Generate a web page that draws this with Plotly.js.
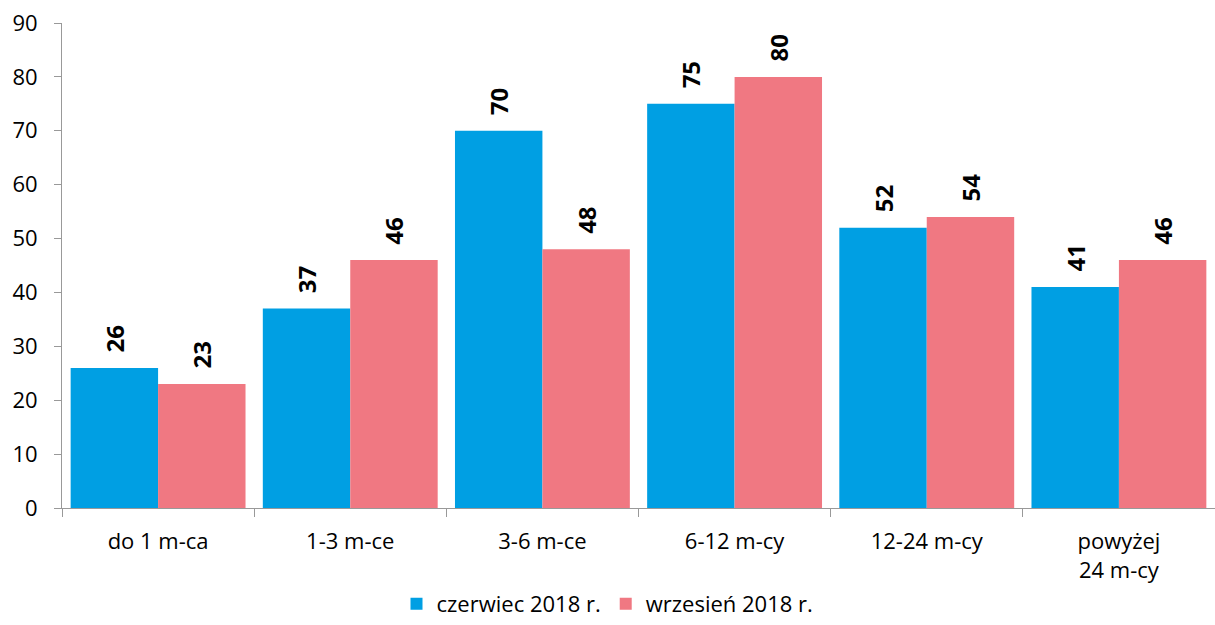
<!DOCTYPE html>
<html><head><meta charset="utf-8">
<script src="https://cdn.plot.ly/plotly-3.0.1.min.js"></script>
<style>body{margin:0;background:#fff}#c{width:1215px;height:625px}</style>
</head><body><div id="c"></div>
<script>
const categories = ["do 1 m-ca", "1-3 m-ce", "3-6 m-ce", "6-12 m-cy", "12-24 m-cy", "powyżej<br>24 m-cy"];
const seriesNames = ["czerwiec 2018 r.", "wrzesień 2018 r."];
const czerwiec = [26, 37, 70, 75, 52, 41];
const wrzesien = [23, 46, 48, 80, 54, 46];
const colors = ["#009FE3", "#F07882"];
const font = "Open Sans, Noto Sans, sans-serif";
const FS = 22;

function mk(name, vals, color){
  return {type:"bar", name:name, x:categories, y:vals, marker:{color:color, line:{width:0}},
    text:vals.map(v => "\u00A0\u00A0" + v), textposition:"outside", textangle:-90, cliponaxis:false,
    textfont:{family:font, size:24, color:"#000", weight:"bold"}, hoverinfo:"none"};
}
const data = [mk(seriesNames[0], czerwiec, colors[0]), mk(seriesNames[1], wrzesien, colors[1])];
const layout = {
  width:1215, height:625, margin:{l:62, r:0, t:23, b:117, autoexpand:false},
  paper_bgcolor:"#fff", plot_bgcolor:"#fff",
  barmode:"group", bargap:0.09, bargroupgap:0,
  font:{family:font, size:FS, color:"#000"},
  xaxis:{type:"category", showline:true, linecolor:"#999", linewidth:1, ticks:"outside", tickson:"boundaries",
    ticklen:8, tickcolor:"#999", tickfont:{size:FS}, showgrid:false, zeroline:false, ticklabelstandoff:14},
  yaxis:{range:[0,90], dtick:10, showline:true, linecolor:"#999", linewidth:1, ticks:"outside", ticklen:7,
    tickcolor:"#999", tickfont:{size:FS}, showgrid:false, zeroline:false, ticklabelstandoff:12},
  showlegend:true,
  legend:{orientation:"h", x:0.5, xanchor:"center", xref:"container", y:0, yref:"container", yanchor:"bottom",
    font:{size:22}, traceorder:"normal", tracegroupgap:0, borderwidth:0}
};
Plotly.newPlot("c", data, layout, {displayModeBar:false, staticPlot:true});
</script></body></html>
